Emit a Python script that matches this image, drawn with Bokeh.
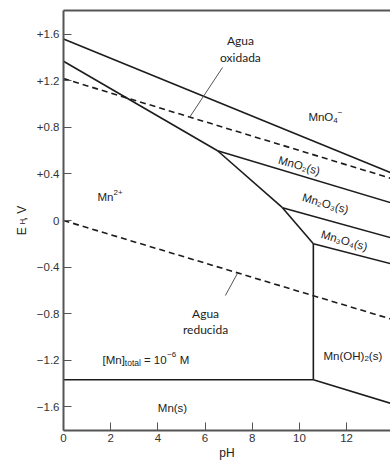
import math
from bokeh.plotting import figure
from bokeh.models import Range1d, FixedTicker, LinearAxis, Label
from bokeh.embed import file_html
from bokeh.resources import INLINE

# ---- boundary lines of the Pourbaix diagram (pH, E in V) ----
mno4_mno2_ph = [0.0, 14.0];     mno4_mno2_E = [1.56, 0.40]
mn2_mno2_ph = [0.0, 6.53];      mn2_mno2_E = [1.37, 0.60]
mno2_mn2o3_ph = [6.53, 14.0];   mno2_mn2o3_E = [0.60, 0.145]
mn2_mn2o3_ph = [6.53, 9.28];    mn2_mn2o3_E = [0.60, 0.11]
mn2o3_mn3o4_ph = [9.28, 14.0];  mn2o3_mn3o4_E = [0.11, -0.155]
mn2_mn3o4_ph = [9.28, 10.59];   mn2_mn3o4_E = [0.11, -0.20]
mn3o4_mnoh2_ph = [10.59, 14.0]; mn3o4_mnoh2_E = [-0.20, -0.378]
mn2_mnoh2_ph = [10.59, 10.59];  mn2_mnoh2_E = [-0.20, -1.37]
mn2_mn_ph = [0.0, 10.59];       mn2_mn_E = [-1.37, -1.37]
mnoh2_mn_ph = [10.59, 14.0];    mnoh2_mn_E = [-1.37, -1.58]

# water stability lines (dashed)
water_ox_ph = [0.0, 14.0];  water_ox_E = [1.22, 0.355]
water_red_ph = [0.0, 14.0]; water_red_E = [0.0, -0.855]

# leader lines for the water labels
leader_ox_ph = [6.74, 5.34];   leader_ox_E = [1.316, 0.886]
leader_red_ph = [7.37, 6.86];  leader_red_E = [-0.456, -0.645]

x_ticks = [0, 2, 4, 6, 8, 10, 12, 14]
y_ticks = [-1.6, -1.2, -0.8, -0.4, 0.0, 0.4, 0.8, 1.2, 1.6]
y_tick_labels = ["\u22121.6", "\u22121.2", "\u22120.8", "\u22120.4", "0",
                 "+0.4", "+0.8", "+1.2", "+1.6"]

FONT = "Liberation Sans"
LINE = "#1c1c1c"
AXIS = "#555555"
TXT = "#222222"

p = figure(width=390, height=462, x_range=Range1d(0, 13.86), y_range=Range1d(-1.806, 1.806),
           output_backend="svg", toolbar_location=None,
           min_border_left=63, min_border_right=0, min_border_top=10, min_border_bottom=32)
p.grid.visible = False
p.outline_line_color = None
p.background_fill_color = "white"
p.border_fill_color = "white"

solid_xs = [mno4_mno2_ph, mn2_mno2_ph, mno2_mn2o3_ph, mn2_mn2o3_ph, mn2o3_mn3o4_ph,
            mn2_mn3o4_ph, mn3o4_mnoh2_ph, mn2_mnoh2_ph, mn2_mn_ph, mnoh2_mn_ph]
solid_ys = [mno4_mno2_E, mn2_mno2_E, mno2_mn2o3_E, mn2_mn2o3_E, mn2o3_mn3o4_E,
            mn2_mn3o4_E, mn3o4_mnoh2_E, mn2_mnoh2_E, mn2_mn_E, mnoh2_mn_E]
p.multi_line(xs=solid_xs, ys=solid_ys, line_color=LINE, line_width=1.6)
p.multi_line(xs=[water_ox_ph, water_red_ph], ys=[water_ox_E, water_red_E],
             line_color=LINE, line_width=1.6, line_dash="6 4")
p.multi_line(xs=[leader_ox_ph, leader_red_ph], ys=[leader_ox_E, leader_red_E],
             line_color="#555555", line_width=1)

# axes
for ax in (p.xaxis[0], p.yaxis[0]):
    ax.axis_line_color = AXIS
    ax.axis_line_width = 2
    ax.major_tick_line_color = AXIS
    ax.major_tick_line_width = 1
    ax.major_tick_in = 8
    ax.major_tick_out = 0
    ax.minor_tick_in = 0
    ax.minor_tick_out = 0
    ax.major_label_text_font = FONT
    ax.major_label_text_font_size = "11.5px"
    ax.major_label_text_color = "#333333"
    ax.axis_label_text_font = FONT
    ax.axis_label_text_font_style = "normal"
    ax.axis_label_text_color = TXT
    ax.axis_label_text_font_size = "12px"
p.xaxis.ticker = FixedTicker(ticks=x_ticks)
p.xaxis.major_label_standoff = 3
p.xaxis.axis_label = "pH"
p.xaxis.axis_label_standoff = 1
p.yaxis.ticker = FixedTicker(ticks=y_ticks)
p.yaxis.major_label_overrides = {v: s for v, s in zip(y_ticks, y_tick_labels)}
p.yaxis.major_label_standoff = 4
# y title "E_H, V": the gap after E is filled by the subscript H of a second axis
p.yaxis.axis_label = "E\u00a0\u00a0, V"
p.yaxis.axis_label_standoff = 5

sub_axis = LinearAxis(ticker=FixedTicker(ticks=[]), major_label_text_font_size="0px",
                      major_tick_in=0, major_tick_out=0, minor_tick_in=0, minor_tick_out=0,
                      major_label_standoff=0, axis_line_color=None,
                      axis_label="H\u00a0", axis_label_text_font=FONT,
                      axis_label_text_font_size="8px", axis_label_text_font_style="normal",
                      axis_label_text_color=TXT, axis_label_standoff=-15)
p.add_layout(sub_axis, "left")

top = LinearAxis(ticker=FixedTicker(ticks=[]), major_label_text_font_size="0px",
                 major_tick_in=0, major_tick_out=0, minor_tick_in=0, minor_tick_out=0,
                 major_label_standoff=0, axis_line_color=AXIS, axis_line_width=2)
p.add_layout(top, "above")

# approximate advance widths (em) of Liberation Sans, used to chain text pieces
W = {"M": .833, "n": .556, "O": .778, "H": .722, "(": .333, ")": .333, "s": .5,
     "[": .278, "]": .278, "t": .278, "o": .556, "a": .556, "l": .222, "=": .584,
     " ": .278, "\u2212": .584, "+": .584}
PX_PER_PH = 327 / 13.86
PX_PER_V = 420 / 3.612


def width_px(text, size):
    return sum(W.get(c, .556) for c in text) * size


def lab(x, y, text, size=11.5, font=FONT, align="left", baseline="alphabetic", angle=0.0,
        color=TXT):
    p.add_layout(Label(x=x, y=y, text=text, text_font=font, text_font_size=f"{size}px",
                       text_align=align, text_baseline=baseline, angle=angle,
                       text_color=color))


def chain(x, y, pieces):
    """pieces: (text, font size px, baseline shift px upward, gap px before)"""
    for text, size, dy, gap in pieces:
        x += gap / PX_PER_PH
        lab(x, y + dy / PX_PER_V, text, size=size)
        x += width_px(text, size) / PX_PER_PH


MAIN, SMALL = 11.5, 8
chain(10.38, 0.886, [("MnO", MAIN, 0, 0), ("4", SMALL, -3, 0), ("\u2212", SMALL, 5, 0)])
chain(1.44, 0.198, [("Mn", MAIN, 0, 0), ("2+", SMALL, 5, 0)])
chain(11.02, -1.161, [("Mn(OH)", MAIN, 0, 0), ("2", SMALL, -3, 0), ("(s)", MAIN, 0, 0)])
chain(1.653, -1.196, [("[Mn]", MAIN, 0, 0), ("total", 8.5, -3, 0), ("= 10", MAIN, 0, 3),
                      ("\u22126", SMALL, 5, 0.5), ("M", MAIN, 0, 3.5)])
lab(4.62, -1.609, "Mn(s)", align="center", baseline="middle")

ang = -0.28
lab(9.99, 0.473, "MnO\u2082(s)", align="center", baseline="middle", angle=ang)
lab(11.10, 0.146, "Mn\u2082O\u2083(s)", align="center", baseline="middle", angle=ang)
lab(11.90, -0.172, "Mn\u2083O\u2084(s)", align="center", baseline="middle", angle=ang)

# water labels
lab(7.50, 1.548, "Agua", size=12, font="Lato", align="center")
lab(7.50, 1.402, "oxidada", size=12, font="Lato", align="center")
lab(6.02, -0.800, "Agua", size=12, font="Lato", align="center")
lab(6.02, -0.938, "reducida", size=12, font="Lato", align="center")

open("out.html", "w").write(file_html(p, INLINE))
